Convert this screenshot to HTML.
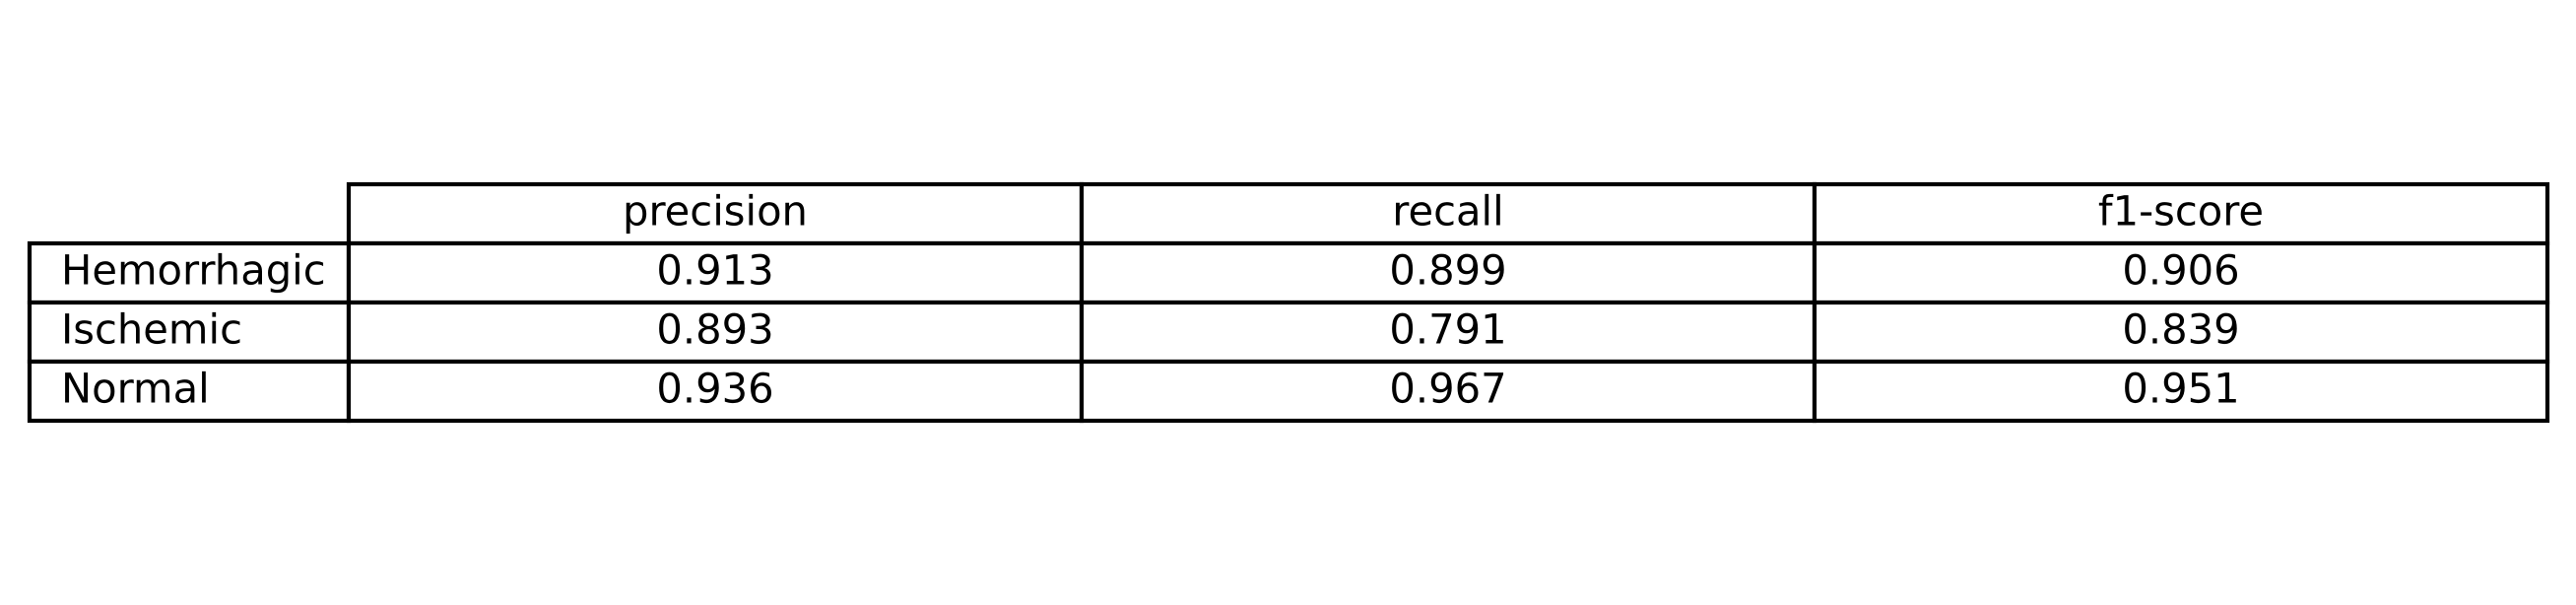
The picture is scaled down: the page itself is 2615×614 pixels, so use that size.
<!DOCTYPE html>
<html lang="en">
<head>
<meta charset="utf-8">
<title>Classification metrics table</title>
<style>
  html, body { margin: 0; padding: 0; background: #ffffff; width: 2615px; height: 614px; overflow: hidden; }
  svg { display: block; }
  text { font-family: "DejaVu Sans", "Liberation Sans", sans-serif; font-size: 41.67px; fill: #000000; text-rendering: geometricPrecision; }
  rect { fill: #ffffff; stroke: #000000; stroke-width: 4.17px; }
</style>
</head>
<body>
<svg id="chart" xmlns="http://www.w3.org/2000/svg" width="2615" height="614" viewBox="0 0 2615 614"></svg>
<script>
const metrics = ["precision", "recall", "f1-score"];
const classes = ["Hemorrhagic", "Ischemic", "Normal"];
const precision = ["0.913", "0.893", "0.936"];
const recall = ["0.899", "0.791", "0.967"];
const f1Score = ["0.906", "0.839", "0.951"];
const seriesValues = [precision, recall, f1Score];

const svg = document.getElementById('chart');
const NS = 'http://www.w3.org/2000/svg';
const tableLeft = 30, labelWidth = 324, columnWidth = 744, tableTop = 187, rowHeight = 60;
const baselineOffset = 41.5, labelPad = 32;

function columnX(col) { return tableLeft + labelWidth + col * columnWidth; }
function rowY(row) { return tableTop + row * rowHeight; }

function addRect(x, y, w, h) {
  const el = document.createElementNS(NS, 'rect');
  el.setAttribute('x', x);
  el.setAttribute('y', y);
  el.setAttribute('width', w);
  el.setAttribute('height', h);
  svg.appendChild(el);
  return el;
}
function addText(x, y, content, anchor) {
  const el = document.createElementNS(NS, 'text');
  el.setAttribute('x', x);
  el.setAttribute('y', y);
  el.setAttribute('text-anchor', anchor);
  el.textContent = content;
  svg.appendChild(el);
  return el;
}

metrics.forEach(function (metric, c) {
  const cell = addRect(columnX(c), rowY(0), columnWidth, rowHeight);
  
  
});
classes.forEach(function (cls, r) {
  const labelCell = addRect(tableLeft, rowY(r + 1), labelWidth, rowHeight);
  
  
  metrics.forEach(function (metric, c) {
    const cell = addRect(columnX(c), rowY(r + 1), columnWidth, rowHeight);
    
    
  });
});
metrics.forEach(function (metric, c) {
  const label = addText(columnX(c) + columnWidth / 2, rowY(0) + baselineOffset, metric, 'middle');
  
  
});
classes.forEach(function (cls, r) {
  const label = addText(tableLeft + labelPad, rowY(r + 1) + baselineOffset, cls, 'start');
  
  
  metrics.forEach(function (metric, c) {
    const value = addText(columnX(c) + columnWidth / 2, rowY(r + 1) + baselineOffset, seriesValues[c][r], 'middle');
    
    
  });
});
</script>
</body>
</html>
